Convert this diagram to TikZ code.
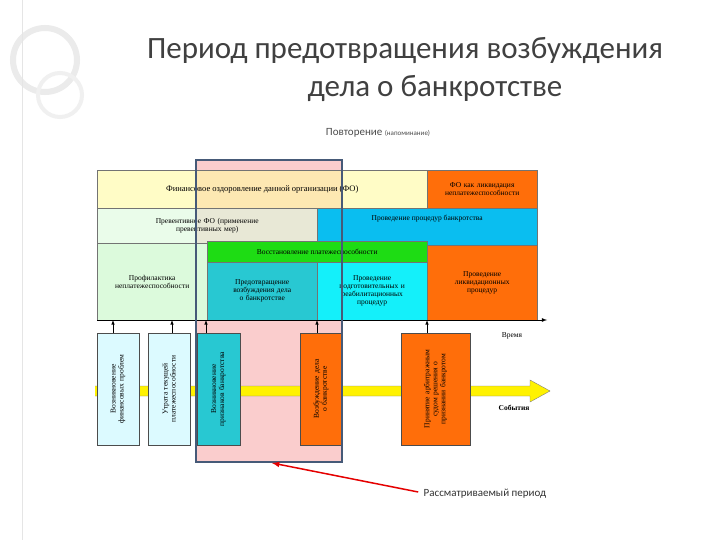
\documentclass[tikz,border=0pt]{standalone}
\usepackage{fontspec}
\setmainfont{Liberation Serif}
\newfontfamily\ttl{Carlito}
\definecolor{cyel}{RGB}{255,250,160}
\definecolor{corg}{RGB}{255,110,10}
\definecolor{cpale}{RGB}{220,250,220}
\definecolor{cblue}{RGB}{10,190,240}
\definecolor{cgreen}{RGB}{30,220,20}
\definecolor{cteal}{RGB}{40,200,210}
\definecolor{ccyan}{RGB}{20,240,250}
\definecolor{cev}{RGB}{220,250,255}
\definecolor{cpink}{RGB}{250,205,205}
\definecolor{cfr}{RGB}{70,90,120}
\begin{document}
\begin{tikzpicture}[x=1pt,y=-1pt,
 cell/.style={draw=black!55,line width=0.4pt,inner sep=1pt,align=center,font=\fontsize{7.5}{8}\selectfont},
 ev/.style={draw=black!70,line width=0.5pt,rotate=90,align=center,inner sep=1pt,font=\fontsize{7.5}{8}\selectfont},
 up/.style={-latex,line width=0.6pt}]
\useasboundingbox (0,0) rectangle (720,540);
\fill[white] (0,0) rectangle (720,540);
\draw[black!8,line width=6pt] (45,60) circle (32);
\draw[black!6,line width=4pt] (60,95) circle (22);
\draw[black!10,line width=0.6pt] (22,0) -- (22,540);
\node[font=\ttl\fontsize{31}{38}\selectfont,text=black!75,align=center] (t) at (405,69) {Период предотвращения возбуждения\\\hspace*{60pt}дела о банкротстве};
\node[font=\ttl\fontsize{11}{12}\selectfont,text=black!70] (s) at (378,133) {Повторение {\fontsize{7}{8}\selectfont(напоминание)}};
\fill[cpink] (196,160) rectangle (342,462);
% rows
\node[cell,fill=cyel,fill opacity=0.6,text opacity=1,minimum width=330,minimum height=38,anchor=north west,font=\fontsize{8.5}{9}\selectfont] (a1) at (97,170) {Финансовое оздоровление данной организации (ФО)};
\node[cell,fill=corg,minimum width=110,minimum height=38,anchor=north west,text width=95] (a2) at (427,170) {ФО как ликвидация неплатежеспособности};
\node[cell,fill=cpale,fill opacity=0.6,text opacity=1,minimum width=220,minimum height=35,anchor=north west,text width=150] (b1) at (97,208) {Превентивное ФО (применение превентивных мер)\\[4pt]};
\node[cell,fill=cblue,minimum width=220,minimum height=37,anchor=north west] (b2) at (317,208) {Проведение процедур банкротства\\[10pt]};
\node[cell,fill=cpale,minimum width=110,minimum height=77,anchor=north west,text width=95] (c1) at (97,243) {Профилактика неплатежеспособности};
\node[cell,fill=corg,minimum width=110,minimum height=75,anchor=north west,text width=75] (c4) at (427,245) {Проведение ликвидационных процедур};
\node[cell,fill=cgreen,minimum width=220,minimum height=21,anchor=north west] (g) at (207,241) {Восстановление платежеспособности};
\node[cell,fill=cteal,minimum width=110,minimum height=58,anchor=north west,text width=88] (c2) at (207,262) {Предотвращение возбуждения дела о банкротстве};
\node[cell,fill=ccyan,minimum width=110,minimum height=58,anchor=north west,text width=80] (c3) at (317,262) {Проведение подготовительных и реабилитационных процедур};
% axis
\coordinate (ax0) at (97,320); \coordinate (ax1) at (547,320);
\draw[-latex,line width=0.8pt] (ax0) -- (ax1);
\node[font=\fontsize{7.5}{8}\selectfont] (vr) at (512,336) {Время};
% yellow arrow
\fill[yellow] (95,386) -- (530,386) -- (530,380) -- (550,391) -- (530,402) -- (530,396) -- (95,396) -- cycle;
\draw[black!50,line width=0.4pt] (95,386) -- (530,386) -- (530,380) -- (550,391) -- (530,402) -- (530,396) -- (95,396);
\node[font=\bfseries\fontsize{7.5}{8}\selectfont] (sb) at (514,408) {События};
% events
\node[ev,fill=cev,minimum width=112,minimum height=42,text width=80] (e1) at (118,389) {Возникновение финансовых проблем};
\node[ev,fill=cev,minimum width=112,minimum height=42,text width=80] (e2) at (169,389) {Утрата текущей платежеспособности};
\node[ev,fill=cteal,minimum width=112,minimum height=43,text width=90] (e3) at (218.5,389) {Возникновение признаков банкротства};
\node[ev,fill=corg,minimum width=112,minimum height=42,text width=80] (e4) at (321,389) {Возбуждение дела о банкротстве};
\node[ev,fill=corg,minimum width=112,minimum height=69,text width=90] (e5) at (435.5,389) {Принятие арбитражным судом решения о признании банкротом};
\draw[up] (e1.east -| 113,0) -- (113,320);
\draw[up] (e2.east -| 172,0) -- (172,320);
\draw[up] (e3.east -| 206,0) -- (206,320);
\draw[up] (e4.east -| 317,0) -- (317,320);
\draw[up] (e5.east -| 427,0) -- (427,320);
\draw[cfr,line width=1.2pt] (196,160) rectangle (342,462);
\coordinate (pe) at (272,463);
\node[font=\ttl\fontsize{11}{12}\selectfont,text=black!80] (rp) at (485,494) {Рассматриваемый период};
\draw[-latex,red!90!black,line width=1.5pt] (rp.west) ++(-2,-2) -- (pe);
\end{tikzpicture}
\end{document}
